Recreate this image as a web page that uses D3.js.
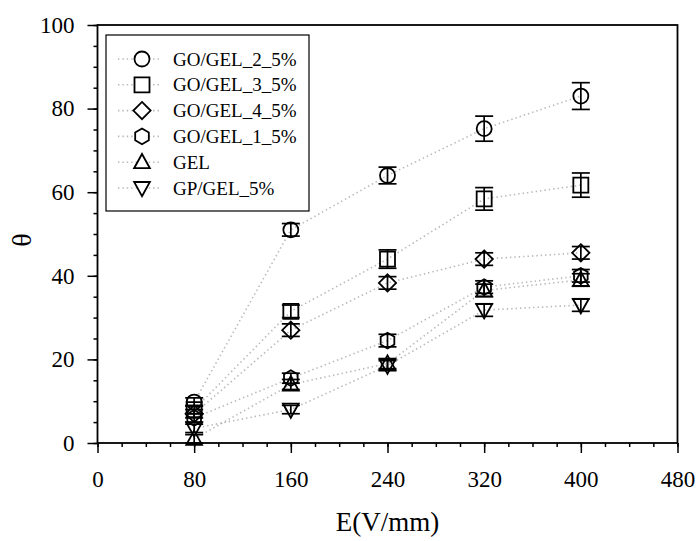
<!DOCTYPE html>
<html>
<head>
<meta charset="utf-8">
<script src="https://cdn.jsdelivr.net/npm/d3@7"></script>
<style>
  body { margin: 0; background: #fff; }
</style>
</head>
<body>
<svg id="chart" width="698" height="541"></svg>
<script>
// field strength (V/mm)
var fields = [80, 160, 240, 320, 400];

var seriesNames = ["GO/GEL_2_5%", "GO/GEL_3_5%", "GO/GEL_4_5%", "GO/GEL_1_5%", "GEL", "GP/GEL_5%"];
var seriesShapes = ["circle", "square", "diamond", "hexagon", "triangle", "triangleDown"];

// theta per series
var go2 = [9.8, 51, 64, 75.2, 83];
var go3 = [8, 31.5, 44, 58.4, 61.7];
var go4 = [7, 27, 38.3, 44, 45.5];
var go1 = [6, 15.5, 24.5, 37.3, 40];
var gel = [1, 14, 19, 36.5, 39];
var gp = [3.5, 8, 18.5, 31.8, 33];

// error bar half-heights
var go2Err = [1, 1.5, 2, 3, 3.2];
var go3Err = [1, 1.5, 2.2, 2.7, 2.9];
var go4Err = [1, 1.5, 1.5, 1.5, 1.5];
var go1Err = [1, 1.2, 1.5, 1.5, 1.5];
var gelErr = [1, 1.2, 1.2, 1.5, 1.5];
var gpErr = [1, 1, 1.2, 1.5, 1.5];

var xTicks = [0, 80, 160, 240, 320, 400, 480];
var yTicks = [0, 20, 40, 60, 80, 100];

var FONT = "'Liberation Serif'";

var allVals = [go2, go3, go4, go1, gel, gp];
var allErrs = [go2Err, go3Err, go4Err, go1Err, gelErr, gpErr];

var series = seriesNames.map(function(n, i) {
  return {
    name: n,
    shape: seriesShapes[i],
    pts: fields.map(function(f, j) { return {x: f, y: allVals[i][j], e: allErrs[i][j]}; })
  };
});

var margin = {top: 25, right: 20, bottom: 98, left: 97.5},
    width = 677.5 - margin.left,
    height = 443 - margin.top;

var svg = d3.select("#chart");
var g = svg.append("g").attr("transform", "translate(" + margin.left + "," + margin.top + ")");

var x = d3.scaleLinear().domain([0, 480]).range([0, width]);
var y = d3.scaleLinear().domain([0, 100]).range([height, 0]);

// marker paths, r is roughly half the width
function shapePath(shape, r) {
  var p;
  if (shape == "circle") {
    return "M" + r + ",0A" + r + "," + r + " 0 1,1 " + (-r) + ",0A" + r + "," + r + " 0 1,1 " + r + ",0Z";
  }
  if (shape == "square") p = [[-r, -r], [r, -r], [r, r], [-r, r]];
  if (shape == "diamond") p = [[0, -r * 1.15], [r * 1.15, 0], [0, r * 1.15], [-r * 1.15, 0]];
  if (shape == "hexagon") {
    p = d3.range(6).map(function(k) {
      var a = Math.PI / 6 + k * Math.PI / 3;
      return [Math.cos(a) * r * 1.05, Math.sin(a) * r * 1.05];
    });
  }
  if (shape == "triangle") p = [[0, -r * 1.1], [r * 1.05, r * 0.8], [-r * 1.05, r * 0.8]];
  if (shape == "triangleDown") p = [[0, r * 1.1], [r * 1.05, -r * 0.8], [-r * 1.05, -r * 0.8]];
  return "M" + p.map(function(d) { return d.join(","); }).join("L") + "Z";
}

// minor ticks
g.append("g")
  .attr("transform", "translate(0," + height + ")")
  .call(d3.axisBottom(x).tickValues(d3.range(0, 481, 20)).tickSize(4).tickFormat(""))
  .call(function(a) { a.select(".domain").remove(); });
g.append("g")
  .call(d3.axisLeft(y).tickValues(d3.range(0, 101, 5)).tickSize(4).tickFormat(""))
  .call(function(a) { a.select(".domain").remove(); });

// major ticks
var xAxis = g.append("g")
  .attr("transform", "translate(0," + height + ")")
  .call(d3.axisBottom(x).tickValues(xTicks).tickSize(10));
var yAxis = g.append("g")
  .call(d3.axisLeft(y).tickValues(yTicks).tickSize(10));

[xAxis, yAxis].forEach(function(a) {
  a.select(".domain").remove();
  a.selectAll("text")
    .attr("fill", "#000")
    .style("font-family", FONT)
    .style("font-size", "23px");
});
yAxis.selectAll("text").attr("x", -23);
xAxis.selectAll("text").attr("y", 28);
g.selectAll(".tick line").attr("stroke", "#000").attr("stroke-width", 1.5);

// frame
g.append("rect")
  .attr("width", width).attr("height", height)
  .attr("fill", "none").attr("stroke", "#000").attr("stroke-width", 1.8);

var line = d3.line().x(function(d) { return x(d.x); }).y(function(d) { return y(d.y); });

// dotted connecting lines
g.selectAll(".conn")
  .data(series)
  .enter().append("path")
  .attr("class", "conn")
  .attr("d", function(d) { return line(d.pts); })
  .attr("fill", "none")
  .attr("stroke", "#b8b8b8")
  .attr("stroke-width", 1.6)
  .attr("stroke-dasharray", "1.4,3");

// error bars + markers
series.forEach(function(s) {
  var grp = g.append("g");
  var eb = grp.selectAll(".eb").data(s.pts).enter().append("g");
  eb.append("line")
    .attr("x1", function(d) { return x(d.x); }).attr("x2", function(d) { return x(d.x); })
    .attr("y1", function(d) { return y(d.y - d.e); }).attr("y2", function(d) { return y(d.y + d.e); });
  eb.append("line")
    .attr("x1", function(d) { return x(d.x) - 9; }).attr("x2", function(d) { return x(d.x) + 9; })
    .attr("y1", function(d) { return y(d.y + d.e); }).attr("y2", function(d) { return y(d.y + d.e); });
  eb.append("line")
    .attr("x1", function(d) { return x(d.x) - 9; }).attr("x2", function(d) { return x(d.x) + 9; })
    .attr("y1", function(d) { return y(d.y - d.e); }).attr("y2", function(d) { return y(d.y - d.e); });
  eb.selectAll("line").attr("stroke", "#000").attr("stroke-width", 1.7);

  grp.selectAll(".mk").data(s.pts).enter().append("path")
    .attr("transform", function(d) { return "translate(" + x(d.x) + "," + y(d.y) + ")"; })
    .attr("d", shapePath(s.shape, 7.5))
    .attr("fill", "none")
    .attr("stroke", "#000")
    .attr("stroke-width", 1.8);
});

// legend
var lg = svg.append("g").attr("transform", "translate(106,35)");
lg.append("rect")
  .attr("width", 203).attr("height", 176)
  .attr("fill", "#fff").attr("stroke", "#000").attr("stroke-width", 1.2);

var items = lg.selectAll(".item").data(series).enter().append("g")
  .attr("transform", function(d, i) { return "translate(0," + (24 + i * 25.8) + ")"; });
items.append("line")
  .attr("x1", 12).attr("x2", 54).attr("y1", 0).attr("y2", 0)
  .attr("stroke", "#b8b8b8").attr("stroke-width", 1.6).attr("stroke-dasharray", "1.4,3");
items.append("path")
  .attr("transform", "translate(36,0)")
  .attr("d", function(d) { return shapePath(d.shape, 7.5); })
  .attr("fill", "#fff").attr("stroke", "#000").attr("stroke-width", 1.8);
items.append("text")
  .attr("x", 67).attr("y", 0).attr("dy", "0.35em")
  .style("font-family", FONT).style("font-size", "19px")
  .text(function(d) { return d.name; });

// axis titles
svg.append("text")
  .attr("x", margin.left + width / 2).attr("y", 531)
  .attr("text-anchor", "middle")
  .style("font-family", FONT).style("font-size", "27px")
  .text("E(V/mm)");

svg.append("text")
  .attr("transform", "translate(31,240) rotate(-90)")
  .attr("text-anchor", "middle")
  .style("font-family", FONT).style("font-size", "28px")
  .text("θ");
</script>
</body>
</html>
